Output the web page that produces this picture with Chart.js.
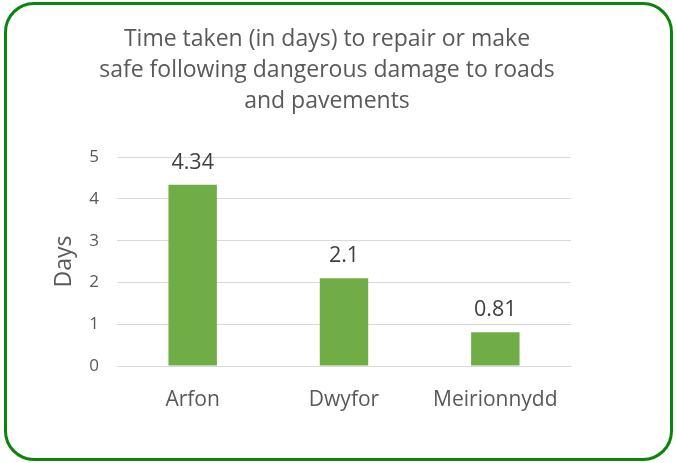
<!DOCTYPE html>
<html>
<head>
<meta charset="utf-8">
<script src="https://cdn.jsdelivr.net/npm/chart.js@4.4.0/dist/chart.umd.min.js"></script>
<style>
  html,body{margin:0;padding:0;background:#fff;}
  .wrap{position:relative;width:676px;height:463px;}
  canvas{position:absolute;left:0;top:0;}
  .frame{position:absolute;left:4px;top:2px;width:663px;height:453px;border:3px solid #0a840a;border-radius:30px;pointer-events:none;}
</style>
</head>
<body>
<div class="wrap">
  <canvas id="chart" width="676" height="463"></canvas>
  <div class="frame"></div>
</div>
<script>
// chart data
const areas = ['Arfon', 'Dwyfor', 'Meirionnydd'];
const days = [4.34, 2.1, 0.81];
const dayLabels = ['4.34', '2.1', '0.81'];
const titleLines = ['Time taken (in days) to repair or make', 'safe following dangerous damage to roads', 'and pavements'];

const grey = '#595959';
const fontFam = '"Open Sans", Lato, sans-serif';

// value labels above bars
const valueLabels = {
  id: 'valueLabels',
  afterDatasetsDraw(chart){
    const ctx = chart.ctx;
    const meta = chart.getDatasetMeta(0);
    ctx.save();
    ctx.font = '21.5px ' + fontFam;
    ctx.fillStyle = '#404040';
    ctx.textAlign = 'center';
    ctx.textBaseline = 'middle';
    meta.data.forEach((bar, i)=>{
      ctx.fillText(dayLabels[i], bar.x, bar.y - 22);
    });
    ctx.restore();
  }
};

new Chart(document.getElementById('chart'), {
  type: 'bar',
  data: {
    labels: areas,
    datasets: [{
      data: days,
      backgroundColor: '#70ad47',
      categoryPercentage: 1,
      barPercentage: 0.32
    }]
  },
  options: {
    responsive: false,
    animation: false,
    layout: { padding: { left: 0, right: 22, top: 0, bottom: 37 } },
    plugins: {
      legend: { display: false },
      tooltip: { enabled: false },
      title: {
        display: true,
        text: titleLines,
        color: grey,
        font: { family: fontFam, size: 23, lineHeight: 1.35, weight: 'normal' },
        padding: { top: 24, bottom: 40 }
      }
    },
    scales: {
      x: {
        grid: { display: false, drawTicks: false },
        border: { display: true, color: '#d9d9d9', width: 1 },
        ticks: { color: grey, font: { family: fontFam, size: 21 }, padding: 21, maxRotation: 0 },
        afterFit(scale){ scale.height = 60; }
      },
      y: {
        min: 0, max: 5,
        ticks: { stepSize: 1, color: grey, font: { family: fontFam, size: 17 }, padding: 18 },
        grid: { color: '#d9d9d9', drawTicks: false },
        border: { display: false },
        title: { display: true, text: 'Days', color: grey, font: { family: fontFam, size: 23 }, padding: { top: 51 } },
        afterFit(scale){ scale.width = 117; }
      },
      // empty right-hand gutter, keeps the plot narrower than the frame
      gutter: {
        type: 'linear', position: 'right', display: true,
        grid: { display: false, drawTicks: false },
        border: { display: false },
        ticks: { display: false },
        afterFit(scale){ scale.width = 83; }
      }
    }
  },
  plugins: [valueLabels]
});
</script>
</body>
</html>
